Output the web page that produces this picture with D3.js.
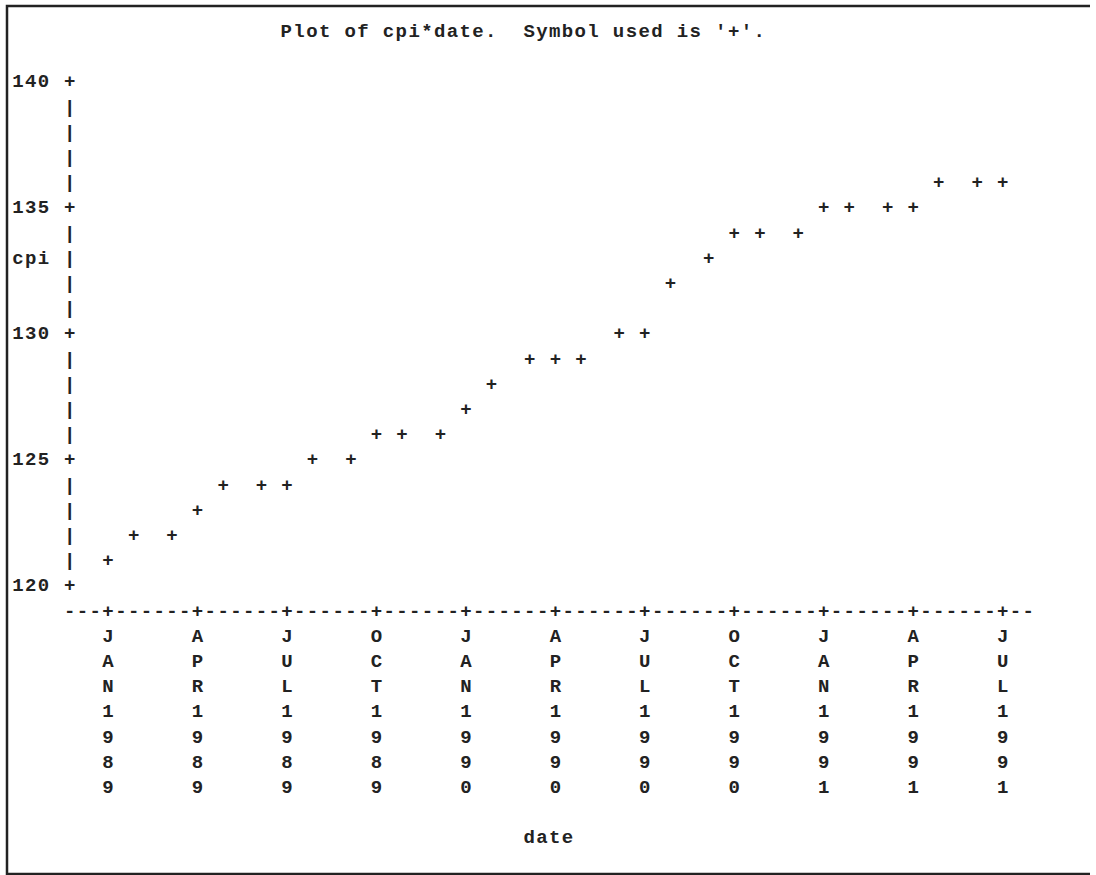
<!DOCTYPE html>
<html>
<head>
<meta charset="utf-8">
<script src="https://cdn.jsdelivr.net/npm/d3@7"></script>
<style>
  html, body { margin: 0; background: #fff; overflow: hidden; }
  svg { display: block; }
  text { font-family: "Liberation Mono", "DejaVu Sans Mono", monospace; font-weight: bold; fill: #222; white-space: pre; }
</style>
</head>
<body>
<div id="chart"></div>
<script>
// monthly cpi, Jan 1989 .. Jul 1991
const dates = ["1989-01","1989-02","1989-03","1989-04","1989-05","1989-06","1989-07","1989-08","1989-09","1989-10","1989-11","1989-12",
               "1990-01","1990-02","1990-03","1990-04","1990-05","1990-06","1990-07","1990-08","1990-09","1990-10","1990-11","1990-12",
               "1991-01","1991-02","1991-03","1991-04","1991-05","1991-06","1991-07"];
const cpi = [121,122,122,123,124,124,124,125,125,126,126,126,
             127,128,129,129,129,130,130,132,133,134,134,134,
             135,135,135,135,136,136,136];
const yTicks = [120,125,130,135,140];
const title = "Plot of cpi*date.  Symbol used is '+'.";
const yLabel = "cpi";
const xLabel = "date";

const W = 1096, H = 875;
// line printer grid: column width / row height
const cw = 12.78, rh = 25.2;
const x0 = 18.6, y0 = 37;
const fs = 19;
const col = c => x0 + c * cw;
const row = r => y0 + r * rh;

const parse = d3.timeParse("%Y-%m");
const data = dates.map((d, i) => ({date: parse(d), cpi: cpi[i]}));

// scales in grid units (columns / rows)
const x = d3.scaleTime().domain([parse("1989-01"), parse("1991-07")]).range([7, 77]);
const y = d3.scaleLinear().domain([120, 140]).range([22, 2]);
const axisCol = 4, axisEnd = 79, axisRow = 23;

const svg = d3.select("#chart").append("svg")
  .attr("width", W).attr("height", H);

// frame (open on the right)
svg.append("path")
  .attr("d", `M${W - 6},6 H7 V874 H${W - 6}`)
  .attr("fill", "none").attr("stroke", "#222").attr("stroke-width", 2.5);

const ch = (c, r, s) => svg.append("text")
  .attr("x", col(c)).attr("y", row(r))
  .attr("text-anchor", "middle").attr("font-size", fs).text(s);

const str = (c, r, s) => svg.append("text")
  .attr("x", col(c) - cw / 2).attr("y", row(r))
  .attr("font-size", fs)
  .attr("xml:space", "preserve")
  .attr("textLength", s.length * cw - (cw - fs * 0.6))
  .attr("lengthAdjust", "spacing")
  .text(s);

// title
str(21, 0, title);

// vertical axis
for (let r = y(140); r <= y(120); r++) {
  const v = Math.round(y.invert(r));
  ch(axisCol, r, yTicks.includes(v) ? "+" : "|");
}
yTicks.forEach(t => str(0, y(t), String(t)));
str(0, 9, yLabel);

// horizontal axis
const xTicks = x.ticks(d3.timeMonth.every(3));
const tickCols = xTicks.map(d => Math.round(x(d)));
for (let c = axisCol; c <= axisEnd; c++) {
  ch(c, axisRow, tickCols.includes(c) ? "+" : "-");
}
const fmt = d3.timeFormat("%b%Y");
xTicks.forEach((d, i) => {
  fmt(d).toUpperCase().split("").forEach((s, k) => ch(tickCols[i], axisRow + 1 + k, s));
});
str(40, 32, xLabel);

// points
svg.append("g").selectAll("text").data(data).join("text")
  .attr("x", d => col(Math.round(x(d.date))))
  .attr("y", d => row(y(d.cpi)))
  .attr("text-anchor", "middle").attr("font-size", fs)
  .text("+");
</script>
</body>
</html>
